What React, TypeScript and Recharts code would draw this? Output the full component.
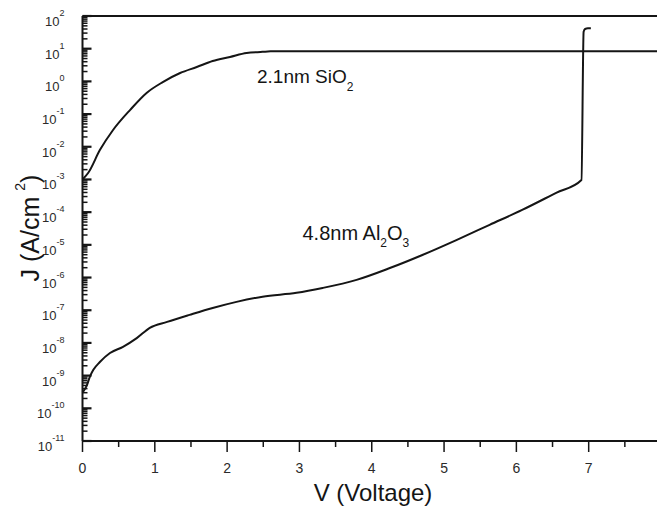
import React from 'react'
import { LineChart, Line, XAxis, YAxis, ReferenceLine, Customized } from 'recharts'

const sio2V = [0, 0.08, 0.24, 0.42, 0.66, 0.89, 1.11, 1.35, 1.58, 1.8, 2.04, 2.27, 2.49, 2.6, 8]
const sio2J = [1.0e-3, 1.6e-3, 7.9e-3, 3.2e-2, 0.135, 0.45, 0.95, 1.8, 2.75, 4.2, 5.6, 7.4, 8.0, 8.3, 8.3]

const al2o3V = [0, 0.06, 0.1, 0.15, 0.24, 0.38, 0.56, 0.75, 0.93, 1.17, 1.48, 1.8, 2.13, 2.49, 2.96, 3.32, 3.79, 4.25, 4.7, 5.17, 5.63, 6.08, 6.55, 6.9, 6.93, 6.95, 6.99, 7.03]
const al2o3J = [3e-10, 5e-10, 9e-10, 1.5e-9, 2.6e-9, 4.9e-9, 7.6e-9, 1.4e-8, 2.9e-8, 4.4e-8, 7.2e-8, 1.17e-7, 1.8e-7, 2.6e-7, 3.4e-7, 4.8e-7, 8.5e-7, 1.95e-6, 4.9e-6, 1.4e-5, 4.1e-5, 1.17e-4, 3.9e-4, 9.6e-4, 33, 40, 42, 42]

const yExponents = [-11, -10, -9, -8, -7, -6, -5, -4, -3, -2, -1, 0, 1, 2]
const yMinorSteps = [2, 3, 4, 5, 6, 7, 8, 9]
const xTicks = [0, 0.5, 1, 1.5, 2, 2.5, 3, 3.5, 4, 4.5, 5, 5.5, 6, 6.5, 7, 7.5, 8]

const sio2Data = sio2V.map((v, i) => ({ v, j: sio2J[i] }))
const al2o3Data = al2o3V.map((v, i) => ({ v, j: al2o3J[i] }))
const yTicks = yExponents.flatMap(e =>
  e === 2 ? [100] : [10 ** e, ...yMinorSteps.map(k => k * 10 ** e)])

const INK = '#151515'
const FONT = '"Liberation Sans", Arial, sans-serif'

// Marcas del eje log hacia dentro, como en el original; etiqueta 10^n a la izquierda.
function YTick({ x, y, payload }: { x: number; y: number; payload: { value: number } }) {
  const lg = Math.log10(payload.value)
  const e = Math.round(lg)
  const major = Math.abs(lg - e) < 1e-6
  return (
    <g>
      <path d={`M${x},${y}h${major ? 9 : 5}`} stroke={INK} strokeWidth={major ? 2.2 : 1.5} fill="none" />
      {major && (
        <text x={x - 18} y={y + 10} textAnchor="end" fontSize={13} fill="#2a2a2a" fontFamily={FONT}>
          10<tspan dy={-10} fontSize={9}>{e}</tspan>
        </text>
      )}
    </g>
  )
}

function XTick({ x, y, payload }: { x: number; y: number; payload: { value: number } }) {
  const major = Number.isInteger(payload.value)
  return (
    <g>
      <line x1={x} x2={x} y1={y} y2={y + (major ? 11 : 6)} stroke={INK} strokeWidth={1.5} />
      {major && (
        <text x={x} y={y + 32} textAnchor="middle" fontSize={14} fill="#2a2a2a" fontFamily={FONT}>
          {payload.value}
        </text>
      )}
    </g>
  )
}

function Labels() {
  return (
    <g fill={INK} fontFamily={FONT}>
      <text x={257} y={83} fontSize={19}>
        2.1nm SiO<tspan dy={8} fontSize={12}>2</tspan>
      </text>
      <text x={302.5} y={240} fontSize={20}>
        4.8nm Al<tspan dy={7} fontSize={12}>2</tspan>
        <tspan dy={-7}>O</tspan>
        <tspan dy={7} fontSize={12}>3</tspan>
      </text>
      <text transform="translate(39,228) rotate(-90)" textAnchor="middle" fontSize={25}>
        J (A/cm<tspan dx={6} dy={-14} fontSize={14}>2</tspan>
        <tspan dy={14}>)</tspan>
      </text>
      <text x={373} y={501} textAnchor="middle" fontSize={24}>V (Voltage)</text>
    </g>
  )
}

export default function App() {
  return (
    <div style={{ position: 'absolute', left: 0, top: 0, width: 657, height: 507, overflow: 'hidden', background: '#fff' }}>
      <LineChart width={700} height={507} margin={{ top: 16, right: 39, bottom: 0, left: 0 }}>
        <XAxis
          dataKey="v" type="number" domain={[0, 8]} ticks={xTicks} interval={0}
          height={66} tickSize={0} tickMargin={0} tickLine={false}
          axisLine={{ stroke: INK, strokeWidth: 2 }} tick={XTick}
        />
        <YAxis
          type="number" scale="log" domain={[1e-11, 100]} allowDataOverflow ticks={yTicks} interval={0}
          width={82.5} tickSize={0} tickMargin={0} tickLine={false}
          axisLine={{ stroke: INK, strokeWidth: 2 }} tick={YTick}
        />
        <ReferenceLine y={100} stroke={INK} strokeWidth={2} ifOverflow="visible" />
        <Line data={sio2Data} dataKey="j" type="monotone" stroke={INK} strokeWidth={2} dot={false} isAnimationActive={false} />
        <Line data={al2o3Data} dataKey="j" type="monotone" stroke={INK} strokeWidth={2} dot={false} isAnimationActive={false} />
        <Customized component={Labels} />
      </LineChart>
    </div>
  )
}
